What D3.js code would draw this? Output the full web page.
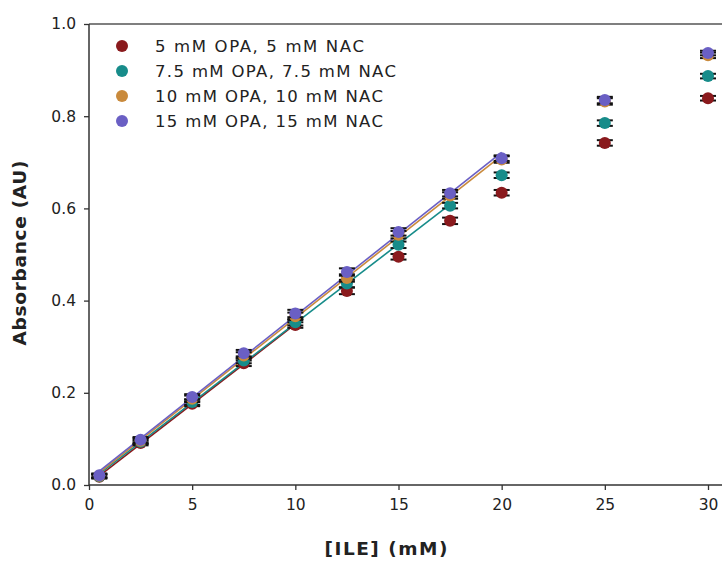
<!DOCTYPE html>
<html>
<head>
<meta charset="utf-8">
<script src="https://cdn.jsdelivr.net/npm/d3@7"></script>
<style>
  html, body { margin: 0; padding: 0; background: #fff; }
  svg { display: block; }
  text { font-family: "DejaVu Sans", sans-serif; fill: #222; }
</style>
</head>
<body>
<svg id="chart" width="722" height="564"></svg>
<script>
// Isoleucine concentration (mM)
const ile = [0.5, 2.5, 5, 7.5, 10, 12.5, 15, 17.5, 20, 25, 30];

// Absorbance readings for each OPA/NAC reagent strength
const abs5   = [0.018, 0.091, 0.176, 0.264, 0.347, 0.421, 0.495, 0.573, 0.634, 0.742, 0.839];
const abs7_5 = [0.019, 0.094, 0.180, 0.270, 0.353, 0.437, 0.521, 0.606, 0.672, 0.785, 0.887];
const abs10  = [0.020, 0.096, 0.187, 0.281, 0.366, 0.449, 0.543, 0.628, 0.706, 0.832, 0.932];
const abs15  = [0.021, 0.098, 0.191, 0.286, 0.372, 0.462, 0.549, 0.633, 0.709, 0.835, 0.937];

// Standard deviations
const sd5   = [0.004, 0.005, 0.005, 0.006, 0.006, 0.007, 0.006, 0.007, 0.006, 0.006, 0.005];
const sd7_5 = [0.004, 0.005, 0.006, 0.006, 0.007, 0.008, 0.007, 0.006, 0.006, 0.006, 0.005];
const sd10  = [0.004, 0.006, 0.007, 0.007, 0.008, 0.008, 0.008, 0.007, 0.007, 0.007, 0.006];
const sd15  = [0.004, 0.006, 0.006, 0.007, 0.008, 0.008, 0.008, 0.007, 0.006, 0.007, 0.005];

// Upper end of the linear range used for each calibration fit (mM)
const linearMax = [10, 17.5, 20, 20];

const seriesNames = [
  "5 mM OPA, 5 mM NAC",
  "7.5 mM OPA, 7.5 mM NAC",
  "10 mM OPA, 10 mM NAC",
  "15 mM OPA, 15 mM NAC"
];
const seriesColors = ["#8a1a1d", "#178c8a", "#c98a3c", "#6a5fc4"];

const xTicks = [0, 5, 10, 15, 20, 25, 30];
const yTicks = [0.0, 0.2, 0.4, 0.6, 0.8, 1.0];

const seriesValues = [abs5, abs7_5, abs10, abs15];
const seriesSd = [sd5, sd7_5, sd10, sd15];

const svg = d3.select("#chart");
const padLeft = 89, padTop = 24, padBottom = 485;

const x = d3.scaleLinear().domain([0, 30]).range([padLeft, 708]);
const y = d3.scaleLinear().domain([0, 1]).range([padBottom, padTop]);

// Frame (top and left/bottom spines; right side runs past the edge)
svg.append("line").attr("x1", padLeft).attr("x2", 722).attr("y1", padTop).attr("y2", padTop)
  .attr("stroke", "#555").attr("stroke-width", 1.5);

const xAxis = d3.axisBottom(x).tickValues(xTicks).tickSize(5).tickPadding(9)
  .tickFormat(d3.format("d"));
const gx = svg.append("g").attr("transform", `translate(0,${padBottom})`).call(xAxis);
gx.select(".domain").attr("d", `M${padLeft},0H722`).attr("stroke", "#333").attr("stroke-width", 1.5);
gx.selectAll(".tick line").attr("stroke", "#333").attr("stroke-width", 1.3);
gx.selectAll(".tick text").attr("font-size", 15.5).attr("font-family", "DejaVu Sans").attr("fill", "#2a2a2a");

const yAxis = d3.axisLeft(y).tickValues(yTicks).tickSize(5).tickPadding(8)
  .tickFormat(d3.format(".1f"));
const gy = svg.append("g").attr("transform", `translate(${padLeft},0)`).call(yAxis);
gy.select(".domain").attr("d", `M0,${padTop}V${padBottom}`).attr("stroke", "#333").attr("stroke-width", 1.5);
gy.selectAll(".tick line").attr("stroke", "#333").attr("stroke-width", 1.3);
gy.selectAll(".tick text").attr("font-size", 15.5).attr("font-family", "DejaVu Sans").attr("fill", "#2a2a2a");

// Axis titles
svg.append("text").attr("x", 386).attr("y", 555).attr("text-anchor", "middle")
  .attr("font-size", 18.5).attr("font-weight", "bold").attr("textLength", 123)
  .attr("lengthAdjust", "spacing").text("[ILE] (mM)");
svg.append("text").attr("transform", "translate(26,253) rotate(-90)").attr("text-anchor", "middle")
  .attr("font-size", 18.5).attr("font-weight", "bold").attr("textLength", 185)
  .attr("lengthAdjust", "spacing").text("Absorbance (AU)");

// Least-squares calibration line over the linear range
function fitLine(xs, ys) {
  const n = xs.length;
  const mx = d3.mean(xs), my = d3.mean(ys);
  let sxy = 0, sxx = 0;
  for (let i = 0; i < n; i++) { sxy += (xs[i] - mx) * (ys[i] - my); sxx += (xs[i] - mx) ** 2; }
  const b = sxy / sxx;
  return { a: my - b * mx, b };
}

const plot = svg.append("g");

seriesValues.forEach((vals, s) => {
  const idx = ile.map((v, i) => i).filter(i => ile[i] <= linearMax[s]);
  const xs = idx.map(i => ile[i]), ys = idx.map(i => vals[i]);
  const f = fitLine(xs, ys);
  const x0 = xs[0], x1 = xs[xs.length - 1];
  plot.append("line")
    .attr("x1", x(x0)).attr("y1", y(f.a + f.b * x0))
    .attr("x2", x(x1)).attr("y2", y(f.a + f.b * x1))
    .attr("stroke", seriesColors[s]).attr("stroke-width", 1.6);
});

// Error bars and markers
seriesValues.forEach((vals, s) => {
  const g = plot.append("g");
  vals.forEach((v, i) => {
    const cx = x(ile[i]);
    const e = seriesSd[s][i];
    g.append("line").attr("x1", cx).attr("x2", cx).attr("y1", y(v - e)).attr("y2", y(v + e))
      .attr("stroke", "#111").attr("stroke-width", 1.3);
    [v - e, v + e].forEach(c => {
      g.append("line").attr("x1", cx - 8).attr("x2", cx + 8).attr("y1", y(c)).attr("y2", y(c))
        .attr("stroke", "#111").attr("stroke-width", 2);
    });
  });
  g.selectAll("circle").data(vals).join("circle")
    .attr("cx", (d, i) => x(ile[i])).attr("cy", d => y(d)).attr("r", 6)
    .attr("fill", seriesColors[s]);
});

// Legend (entries stretched to the original label widths)
const legendWidths = [209, 241, 228, 228];
const legend = svg.append("g");
seriesNames.forEach((name, s) => {
  const ly = 46 + s * 25;
  legend.append("circle").attr("cx", 122).attr("cy", ly).attr("r", 6).attr("fill", seriesColors[s]);
  legend.append("text").attr("x", 155).attr("y", ly + 6).attr("font-size", 16.5)
    .attr("textLength", legendWidths[s]).attr("lengthAdjust", "spacing").text(name);
});
</script>
</body>
</html>
